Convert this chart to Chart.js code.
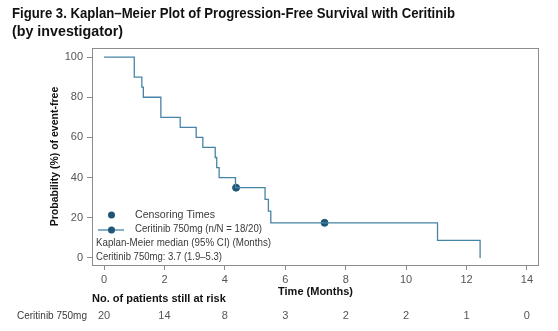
<!DOCTYPE html>
<html>
<head>
  <meta charset="UTF-8">
  <title>Kaplan-Meier PFS with Ceritinib</title>
  <script src="https://cdn.jsdelivr.net/npm/chart.js"></script>
  <style>
    body {
      margin: 0;
      background: #fff;
    }
    #wrap {
      position: relative;
      width: 558px;
      height: 331px;
    }
  </style>
</head>
<body>
  <div id="wrap"><canvas id="kmChart" width="558" height="331"></canvas></div>

  <script>
    // event times (months) and survival after each event (%)
    const times = [0, 1.0, 1.25, 1.3, 1.88, 2.52, 3.05, 3.27, 3.68, 3.73, 3.81, 4.35, 5.33, 5.44, 5.52, 11.04, 12.45];
    const survival = [100, 90, 85, 80, 70, 65, 60, 55, 50, 45, 40, 35, 29.17, 23.33, 17.5, 8.75, 0];

    // censored patients
    const censorTimes = [4.37, 7.3];
    const censorValues = [35, 17.5];

    const xTicks = [0, 2, 4, 6, 8, 10, 12, 14];
    const yTicks = [0, 20, 40, 60, 80, 100];

    // number at risk table
    const riskTimes = [0, 2, 4, 6, 8, 10, 12, 14];
    const riskCounts = [20, 14, 8, 3, 2, 2, 1, 0];

    const titleLines = [
      'Figure 3. Kaplan\u2013Meier Plot of Progression-Free Survival with Ceritinib',
      '(by investigator)'
    ];
    const legendLines = [
      'Censoring Times',
      'Ceritinib 750mg (n/N = 18/20)',
      'Kaplan-Meier median (95% CI) (Months)',
      'Ceritinib 750mg: 3.7 (1.9\u20135.3)'
    ];
    const riskTitle = 'No. of patients still at risk';
    const riskLabel = 'Ceritinib 750mg';

    const lineColor = '#4684a6';
    const dotColor = '#1f5676';
    const textColor = '#3a3a3a';
    const fontFam = '"Liberation Sans", Arial, sans-serif';

    // draw text squeezed to a given width if needed
    function fitText(ctx, text, x, y, maxW) {
      const w = ctx.measureText(text).width;
      ctx.save();
      ctx.translate(x, y);
      if (maxW && w > maxW) ctx.scale(maxW / w, 1);
      ctx.fillText(text, 0, 0);
      ctx.restore();
    }

    const extras = {
      id: 'extras',
      afterDraw(chart) {
        const ctx = chart.ctx;
        const a = chart.chartArea;
        const xs = chart.scales.x;

        // frame
        ctx.save();
        ctx.strokeStyle = '#8c8c8c';
        ctx.lineWidth = 1;
        ctx.strokeRect(a.left + 0.5, a.top + 0.5, a.right - a.left - 1, a.bottom - a.top);

        // title
        ctx.fillStyle = '#111';
        ctx.textBaseline = 'middle';
        ctx.textAlign = 'left';
        ctx.font = 'bold 15px ' + fontFam;
        fitText(ctx, titleLines[0], 12, 14, 443);
        fitText(ctx, titleLines[1], 12, 32, 111);

        // legend
        ctx.fillStyle = dotColor;
        ctx.beginPath();
        ctx.arc(111.5, 215, 3.5, 0, Math.PI * 2);
        ctx.fill();
        ctx.strokeStyle = lineColor;
        ctx.lineWidth = 1.3;
        ctx.beginPath();
        ctx.moveTo(98, 230);
        ctx.lineTo(124, 230);
        ctx.stroke();
        ctx.beginPath();
        ctx.arc(111.5, 230, 3.5, 0, Math.PI * 2);
        ctx.fill();

        ctx.fillStyle = textColor;
        ctx.font = '11px ' + fontFam;
        fitText(ctx, legendLines[0], 135, 215, 80);
        fitText(ctx, legendLines[1], 135, 229, 127);
        fitText(ctx, legendLines[2], 96, 243, 175);
        fitText(ctx, legendLines[3], 96, 257, 126);

        // at risk table
        ctx.fillStyle = '#111';
        ctx.font = 'bold 11px ' + fontFam;
        fitText(ctx, riskTitle, 92, 299, 136);
        ctx.fillStyle = textColor;
        ctx.font = '11px ' + fontFam;
        fitText(ctx, riskLabel, 17, 316, 70);
        ctx.textAlign = 'center';
        ctx.fillStyle = '#555';
        riskTimes.forEach((t, i) => {
          ctx.fillText(String(riskCounts[i]), xs.getPixelForValue(t), 316);
        });
        ctx.restore();
      }
    };

    const ctx = document.getElementById('kmChart').getContext('2d');
    new Chart(ctx, {
      type: 'line',
      data: {
        datasets: [{
          label: 'Ceritinib 750mg',
          data: times.map((t, i) => ({ x: t, y: survival[i] })),
          stepped: true,
          borderColor: lineColor,
          borderWidth: 1.3,
          pointRadius: 0,
          fill: false
        }, {
          label: 'Censoring Times',
          data: censorTimes.map((t, i) => ({ x: t, y: censorValues[i] })),
          showLine: false,
          pointRadius: 3.5,
          pointBackgroundColor: dotColor,
          pointBorderColor: dotColor
        }]
      },
      options: {
        responsive: false,
        animation: false,
        layout: {
          padding: { left: 45, right: 19, top: 48, bottom: 28 }
        },
        plugins: {
          legend: { display: false },
          tooltip: { enabled: false },
          title: { display: false }
        },
        scales: {
          x: {
            type: 'linear',
            min: -0.4,
            max: 14.4,
            afterBuildTicks: s => { s.ticks = xTicks.map(v => ({ value: v })); },
            afterFit: s => { s.height = 38; },
            grid: { drawOnChartArea: false, tickLength: 5, color: '#8c8c8c' },
            border: { display: false },
            ticks: {
              color: '#555',
              padding: 3,
              font: { size: 11, family: fontFam },
              maxRotation: 0
            },
            title: {
              display: true,
              text: 'Time (Months)',
              color: '#111',
              font: { size: 11, weight: 'bold', family: fontFam },
              padding: { top: 0, bottom: 4 }
            }
          },
          y: {
            min: -3.5,
            max: 104.5,
            afterBuildTicks: s => { s.ticks = yTicks.map(v => ({ value: v })); },
            afterFit: s => { s.width = 47; },
            grid: { drawOnChartArea: false, tickLength: 5, color: '#8c8c8c' },
            border: { display: false },
            ticks: {
              color: '#555',
              padding: 4,
              font: { size: 11, family: fontFam }
            },
            title: {
              display: true,
              text: 'Probability (%) of event-free',
              color: '#111',
              font: { size: 10.5, weight: 'bold', family: fontFam },
              padding: { top: 4, bottom: 4 }
            }
          }
        }
      },
      plugins: [extras]
    });
  </script>
</body>
</html>
